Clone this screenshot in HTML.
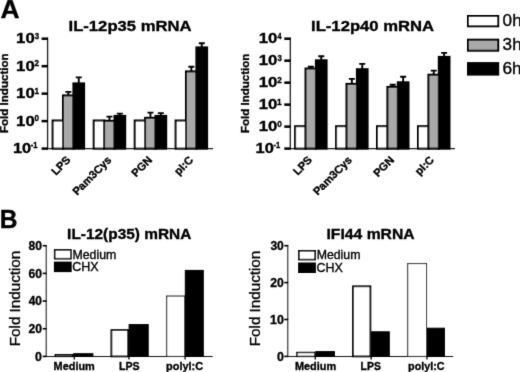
<!DOCTYPE html>
<html><head><meta charset="utf-8"><title>Figure</title>
<style>
html,body{margin:0;padding:0;background:#fff;}
svg{display:block;}
text{font-family:"Liberation Sans", Arial, sans-serif;fill:#000;stroke:#000;stroke-width:0.35px;}
.b{font-weight:bold;}
</style></head><body>
<svg width="520" height="372" viewBox="0 0 520 372">
<defs><filter id="soft" x="0" y="0" width="520" height="372" filterUnits="userSpaceOnUse"><feConvolveMatrix order="3" kernelMatrix="0.015 0.075 0.015 0.075 0.64 0.075 0.015 0.075 0.015" divisor="1" edgeMode="none" preserveAlpha="false"/></filter></defs>
<rect width="520" height="372" fill="#fff"/>
<g filter="url(#soft)">
<text class="b" font-size="26.30" transform="translate(0.54 17.75) scale(1.004 1)">A</text>
<text class="b" font-size="25.94" transform="translate(-0.20 227.80) scale(0.948 1)">B</text>
<path d="M47.6 37.7V149.2" stroke="#222" stroke-width="1.3" fill="none"/>
<path d="M47.0 148.6H213" stroke="#222" stroke-width="1.2" fill="none"/>
<path d="M41.60 38.70H47.90" stroke="#000" stroke-width="2.5"/>
<text class="b" font-size="15.00" transform="translate(16.10 43.40) scale(1.116 1)">10</text>
<text class="b" font-size="9.57" transform="translate(34.70 38.90) scale(0.823 1)">3</text>
<path d="M41.60 66.17H47.90" stroke="#000" stroke-width="2.5"/>
<text class="b" font-size="15.00" transform="translate(16.10 70.88) scale(1.116 1)">10</text>
<text class="b" font-size="9.57" transform="translate(34.62 66.38) scale(0.849 1)">2</text>
<path d="M41.60 93.65H47.90" stroke="#000" stroke-width="2.5"/>
<text class="b" font-size="15.00" transform="translate(16.10 98.35) scale(1.116 1)">10</text>
<text class="b" font-size="9.71" transform="translate(34.40 93.85) scale(0.855 1)">1</text>
<path d="M41.60 121.12H47.90" stroke="#000" stroke-width="2.5"/>
<text class="b" font-size="15.00" transform="translate(16.10 125.83) scale(1.116 1)">10</text>
<text class="b" font-size="9.57" transform="translate(34.57 121.33) scale(0.858 1)">0</text>
<path d="M41.60 148.60H47.90" stroke="#000" stroke-width="2.5"/>
<text class="b" font-size="15.14" transform="translate(12.91 153.40) scale(1.085 1)">10</text>
<text class="b" font-size="9.57" transform="translate(30.70 148.10) scale(0.786 1)">-1</text>
<text class="b" font-size="15.43" transform="translate(68.52 30.70) scale(1.080 1)">IL-12p35 mRNA</text>
<text class="b" font-size="11.57" transform="translate(7.90 133.05) rotate(-90) scale(1 0.954)">Fold Induction</text>
<rect x="52.60" y="120.50" width="10.70" height="28.10" fill="#fff" stroke="#000" stroke-width="2.0"/>
<path d="M68.35 95.40V91.90M65.35 91.90H71.35" stroke="#000" stroke-width="1.9" fill="none"/><rect x="63.00" y="95.40" width="10.70" height="53.20" fill="#a9a9a9" stroke="#000" stroke-width="2.0"/>
<path d="M78.75 83.40V77.40M75.75 77.40H81.75" stroke="#000" stroke-width="1.9" fill="none"/><rect x="73.40" y="83.40" width="10.70" height="65.20" fill="#000" stroke="#000" stroke-width="2.0"/>
<text class="b" font-size="10.9" text-anchor="end" transform="translate(71.20 160.60) scale(1.03 1) rotate(-46)">LPS</text>
<rect x="93.70" y="120.50" width="10.70" height="28.10" fill="#fff" stroke="#000" stroke-width="2.0"/>
<path d="M109.45 120.80V116.60M106.45 116.60H112.45" stroke="#000" stroke-width="1.9" fill="none"/><rect x="104.10" y="120.80" width="10.70" height="27.80" fill="#a9a9a9" stroke="#000" stroke-width="2.0"/>
<path d="M119.85 115.90V113.60M116.85 113.60H122.85" stroke="#000" stroke-width="1.9" fill="none"/><rect x="114.50" y="115.90" width="10.70" height="32.70" fill="#000" stroke="#000" stroke-width="2.0"/>
<text class="b" font-size="10.9" text-anchor="end" transform="translate(112.20 160.60) scale(1.03 1) rotate(-46)">Pam3Cys</text>
<rect x="134.70" y="120.50" width="10.70" height="28.10" fill="#fff" stroke="#000" stroke-width="2.0"/>
<path d="M150.45 117.80V112.60M147.45 112.60H153.45" stroke="#000" stroke-width="1.9" fill="none"/><rect x="145.10" y="117.80" width="10.70" height="30.80" fill="#a9a9a9" stroke="#000" stroke-width="2.0"/>
<path d="M160.85 115.90V113.10M157.85 113.10H163.85" stroke="#000" stroke-width="1.9" fill="none"/><rect x="155.50" y="115.90" width="10.70" height="32.70" fill="#000" stroke="#000" stroke-width="2.0"/>
<text class="b" font-size="10.9" text-anchor="end" transform="translate(152.90 160.60) scale(1.03 1) rotate(-46)">PGN</text>
<rect x="175.60" y="120.50" width="10.70" height="28.10" fill="#fff" stroke="#000" stroke-width="2.0"/>
<path d="M191.35 71.40V66.80M188.35 66.80H194.35" stroke="#000" stroke-width="1.9" fill="none"/><rect x="186.00" y="71.40" width="10.70" height="77.20" fill="#a9a9a9" stroke="#000" stroke-width="2.0"/>
<path d="M201.75 47.40V43.30M198.75 43.30H204.75" stroke="#000" stroke-width="1.9" fill="none"/><rect x="196.40" y="47.40" width="10.70" height="101.20" fill="#000" stroke="#000" stroke-width="2.0"/>
<text class="b" font-size="10.9" text-anchor="end" transform="translate(193.80 160.60) scale(1.03 1) rotate(-46)">pI:C</text>
<path d="M290.3 37.7V149.2" stroke="#222" stroke-width="1.3" fill="none"/>
<path d="M289.7 148.6H455" stroke="#222" stroke-width="1.2" fill="none"/>
<path d="M284.30 38.70H290.60" stroke="#000" stroke-width="2.5"/>
<text class="b" font-size="15.00" transform="translate(258.80 43.40) scale(1.116 1)">10</text>
<text class="b" font-size="9.71" transform="translate(277.49 38.90) scale(0.751 1)">4</text>
<path d="M284.30 60.68H290.60" stroke="#000" stroke-width="2.5"/>
<text class="b" font-size="15.00" transform="translate(258.80 65.38) scale(1.116 1)">10</text>
<text class="b" font-size="9.57" transform="translate(277.40 60.88) scale(0.823 1)">3</text>
<path d="M284.30 82.66H290.60" stroke="#000" stroke-width="2.5"/>
<text class="b" font-size="15.00" transform="translate(258.80 87.36) scale(1.116 1)">10</text>
<text class="b" font-size="9.57" transform="translate(277.32 82.86) scale(0.849 1)">2</text>
<path d="M284.30 104.64H290.60" stroke="#000" stroke-width="2.5"/>
<text class="b" font-size="15.00" transform="translate(258.80 109.34) scale(1.116 1)">10</text>
<text class="b" font-size="9.71" transform="translate(277.10 104.84) scale(0.855 1)">1</text>
<path d="M284.30 126.62H290.60" stroke="#000" stroke-width="2.5"/>
<text class="b" font-size="15.00" transform="translate(258.80 131.32) scale(1.116 1)">10</text>
<text class="b" font-size="9.57" transform="translate(277.27 126.82) scale(0.858 1)">0</text>
<path d="M284.30 148.60H290.60" stroke="#000" stroke-width="2.5"/>
<text class="b" font-size="15.14" transform="translate(255.61 153.40) scale(1.085 1)">10</text>
<text class="b" font-size="9.57" transform="translate(273.40 148.10) scale(0.786 1)">-1</text>
<text class="b" font-size="15.43" transform="translate(311.02 30.60) scale(1.081 1)">IL-12p40 mRNA</text>
<text class="b" font-size="11.54" transform="translate(249.40 133.05) rotate(-90) scale(1 0.956)">Fold Induction</text>
<rect x="295.10" y="126.20" width="10.70" height="22.40" fill="#fff" stroke="#000" stroke-width="2.0"/>
<path d="M310.85 68.50V66.80M307.85 66.80H313.85" stroke="#000" stroke-width="1.9" fill="none"/><rect x="305.50" y="68.50" width="10.70" height="80.10" fill="#a9a9a9" stroke="#000" stroke-width="2.0"/>
<path d="M321.25 60.30V56.20M318.25 56.20H324.25" stroke="#000" stroke-width="1.9" fill="none"/><rect x="315.90" y="60.30" width="10.70" height="88.30" fill="#000" stroke="#000" stroke-width="2.0"/>
<text class="b" font-size="10.9" text-anchor="end" transform="translate(312.80 160.60) scale(1.03 1) rotate(-46)">LPS</text>
<rect x="336.10" y="126.20" width="10.70" height="22.40" fill="#fff" stroke="#000" stroke-width="2.0"/>
<path d="M351.85 83.90V78.90M348.85 78.90H354.85" stroke="#000" stroke-width="1.9" fill="none"/><rect x="346.50" y="83.90" width="10.70" height="64.70" fill="#a9a9a9" stroke="#000" stroke-width="2.0"/>
<path d="M362.25 69.20V63.90M359.25 63.90H365.25" stroke="#000" stroke-width="1.9" fill="none"/><rect x="356.90" y="69.20" width="10.70" height="79.40" fill="#000" stroke="#000" stroke-width="2.0"/>
<text class="b" font-size="10.9" text-anchor="end" transform="translate(352.70 160.60) scale(1.03 1) rotate(-46)">Pam3Cys</text>
<rect x="377.00" y="126.20" width="10.70" height="22.40" fill="#fff" stroke="#000" stroke-width="2.0"/>
<path d="M392.75 86.90V84.70M389.75 84.70H395.75" stroke="#000" stroke-width="1.9" fill="none"/><rect x="387.40" y="86.90" width="10.70" height="61.70" fill="#a9a9a9" stroke="#000" stroke-width="2.0"/>
<path d="M403.15 82.30V76.70M400.15 76.70H406.15" stroke="#000" stroke-width="1.9" fill="none"/><rect x="397.80" y="82.30" width="10.70" height="66.30" fill="#000" stroke="#000" stroke-width="2.0"/>
<text class="b" font-size="10.9" text-anchor="end" transform="translate(394.80 160.60) scale(1.03 1) rotate(-46)">PGN</text>
<rect x="418.00" y="126.20" width="10.70" height="22.40" fill="#fff" stroke="#000" stroke-width="2.0"/>
<path d="M433.75 74.70V70.60M430.75 70.60H436.75" stroke="#000" stroke-width="1.9" fill="none"/><rect x="428.40" y="74.70" width="10.70" height="73.90" fill="#a9a9a9" stroke="#000" stroke-width="2.0"/>
<path d="M444.15 56.90V52.90M441.15 52.90H447.15" stroke="#000" stroke-width="1.9" fill="none"/><rect x="438.80" y="56.90" width="10.70" height="91.70" fill="#000" stroke="#000" stroke-width="2.0"/>
<text class="b" font-size="10.9" text-anchor="end" transform="translate(434.70 160.60) scale(1.03 1) rotate(-46)">pI:C</text>
<rect x="468.0" y="16.0" width="30.2" height="10.3" fill="#fff" stroke="#000" stroke-width="2.0"/>
<text font-size="16.00" transform="translate(502.62 26.40) scale(1.070 1)">0h</text>
<rect x="468.0" y="39.7" width="30.2" height="11.0" fill="#a9a9a9" stroke="#000" stroke-width="2.0"/>
<text font-size="16.00" transform="translate(502.62 50.10) scale(1.070 1)">3h</text>
<rect x="468.0" y="63.1" width="30.2" height="11.5" fill="#000" stroke="#000" stroke-width="2.0"/>
<text font-size="16.14" transform="translate(502.44 73.90) scale(1.071 1)">6h</text>
<path d="M46.2 245.1V356.4H212.8" stroke="#1a1a1a" stroke-width="1.05" fill="none"/>
<path d="M42.70 245.70H46.60" stroke="#000" stroke-width="1.6"/>
<text class="b" font-size="13.14" transform="translate(28.54 250.00) scale(0.922 1)" stroke-width="0">80</text>
<path d="M42.70 273.38H46.60" stroke="#000" stroke-width="1.6"/>
<text class="b" font-size="13.14" transform="translate(28.47 277.68) scale(0.926 1)" stroke-width="0">60</text>
<path d="M42.70 301.05H46.60" stroke="#000" stroke-width="1.6"/>
<text class="b" font-size="13.14" transform="translate(28.72 305.35) scale(0.909 1)" stroke-width="0">40</text>
<path d="M42.70 328.72H46.60" stroke="#000" stroke-width="1.6"/>
<text class="b" font-size="13.14" transform="translate(28.47 333.02) scale(0.926 1)" stroke-width="0">20</text>
<path d="M42.70 356.40H46.60" stroke="#000" stroke-width="1.6"/>
<text class="b" font-size="13.14" transform="translate(35.10 360.70) scale(0.945 1)" stroke-width="0">0</text>
<path d="M74.3 356.4V359.4" stroke="#000" stroke-width="1.3"/>
<path d="M129 356.4V359.4" stroke="#000" stroke-width="1.3"/>
<path d="M185.1 356.4V359.4" stroke="#000" stroke-width="1.3"/>
<text class="b" font-size="14.90" transform="translate(67.10 239.20) scale(1.037 1)">IL-12(p35) mRNA</text>
<text font-size="15.21" transform="translate(20.10 346.22) rotate(-90) scale(1 0.925)" stroke-width="0.8">Fold Induction</text>
<rect x="55.30" y="354.70" width="17.20" height="1.70" fill="#fff" stroke="#000" stroke-width="1.4"/>
<rect x="73.70" y="353.70" width="19.20" height="2.70" fill="#000" stroke="#000" stroke-width="1"/>
<rect x="111.40" y="330.10" width="16.70" height="26.30" fill="#fff" stroke="#000" stroke-width="1.8"/>
<rect x="129.10" y="324.60" width="19.10" height="31.80" fill="#000" stroke="#000" stroke-width="1"/>
<rect x="166.70" y="296.00" width="17.80" height="60.40" fill="#fff" stroke="#000" stroke-width="1.0"/>
<rect x="185.30" y="270.40" width="18.00" height="86.00" fill="#000" stroke="#000" stroke-width="1"/>
<text class="b" font-size="11.17" transform="translate(53.59 369.90) scale(0.977 1)">Medium</text>
<text class="b" font-size="11.57" transform="translate(118.91 369.90) scale(0.918 1)">LPS</text>
<text class="b" font-size="11.17" transform="translate(166.09 369.90) scale(0.978 1)">polyI:C</text>
<rect x="54.699999999999996" y="249.9" width="16.2" height="8.8" fill="#fff" stroke="#000" stroke-width="1.6"/>
<rect x="53.9" y="261.6" width="17.8" height="10.5" fill="#000"/>
<text font-size="12.14" transform="translate(72.52 258.86) scale(1.013 1)">Medium</text>
<text font-size="12.57" transform="translate(72.27 270.96) scale(0.998 1)">CHX</text>
<path d="M287.8 245.1V356.4H453.1" stroke="#1a1a1a" stroke-width="1.05" fill="none"/>
<path d="M284.30 245.70H288.20" stroke="#000" stroke-width="1.6"/>
<text class="b" font-size="13.14" transform="translate(270.40 250.00) scale(0.917 1)" stroke-width="0">30</text>
<path d="M284.30 282.60H288.20" stroke="#000" stroke-width="1.6"/>
<text class="b" font-size="13.14" transform="translate(270.27 286.90) scale(0.926 1)" stroke-width="0">20</text>
<path d="M284.30 319.50H288.20" stroke="#000" stroke-width="1.6"/>
<text class="b" font-size="13.14" transform="translate(269.95 323.80) scale(0.949 1)" stroke-width="0">10</text>
<path d="M284.30 356.40H288.20" stroke="#000" stroke-width="1.6"/>
<text class="b" font-size="13.14" transform="translate(276.90 360.70) scale(0.945 1)" stroke-width="0">0</text>
<path d="M315.3 356.4V359.4" stroke="#000" stroke-width="1.3"/>
<path d="M371.2 356.4V359.4" stroke="#000" stroke-width="1.3"/>
<path d="M427 356.4V359.4" stroke="#000" stroke-width="1.3"/>
<text class="b" font-size="15.51" transform="translate(326.48 238.90) scale(1.013 1)">IFI44 mRNA</text>
<text font-size="15.21" transform="translate(260.40 346.22) rotate(-90) scale(1 0.916)" stroke-width="0.8">Fold Induction</text>
<rect x="296.90" y="352.50" width="17.90" height="3.90" fill="#fff" stroke="#000" stroke-width="1.4"/>
<rect x="315.80" y="351.60" width="18.60" height="4.80" fill="#000" stroke="#000" stroke-width="1"/>
<rect x="353.00" y="286.30" width="17.40" height="70.10" fill="#fff" stroke="#000" stroke-width="1.8"/>
<rect x="371.60" y="331.80" width="17.70" height="24.60" fill="#000" stroke="#000" stroke-width="1"/>
<rect x="407.70" y="263.60" width="18.80" height="92.80" fill="#fff" stroke="#000" stroke-width="1.0"/>
<rect x="427.40" y="328.20" width="17.00" height="28.20" fill="#000" stroke="#000" stroke-width="1"/>
<text class="b" font-size="11.17" transform="translate(294.89 369.90) scale(0.977 1)">Medium</text>
<text class="b" font-size="11.57" transform="translate(360.62 369.90) scale(0.904 1)">LPS</text>
<text class="b" font-size="11.17" transform="translate(408.10 369.90) scale(0.967 1)">polyI:C</text>
<rect x="298.90000000000003" y="250.8" width="16.2" height="8.8" fill="#fff" stroke="#000" stroke-width="1.6"/>
<rect x="298.1" y="262.5" width="17.8" height="10.5" fill="#000"/>
<text font-size="12.14" transform="translate(316.72 259.40) scale(1.013 1)">Medium</text>
<text font-size="12.57" transform="translate(316.47 271.50) scale(0.998 1)">CHX</text>
</g></svg></body></html>
